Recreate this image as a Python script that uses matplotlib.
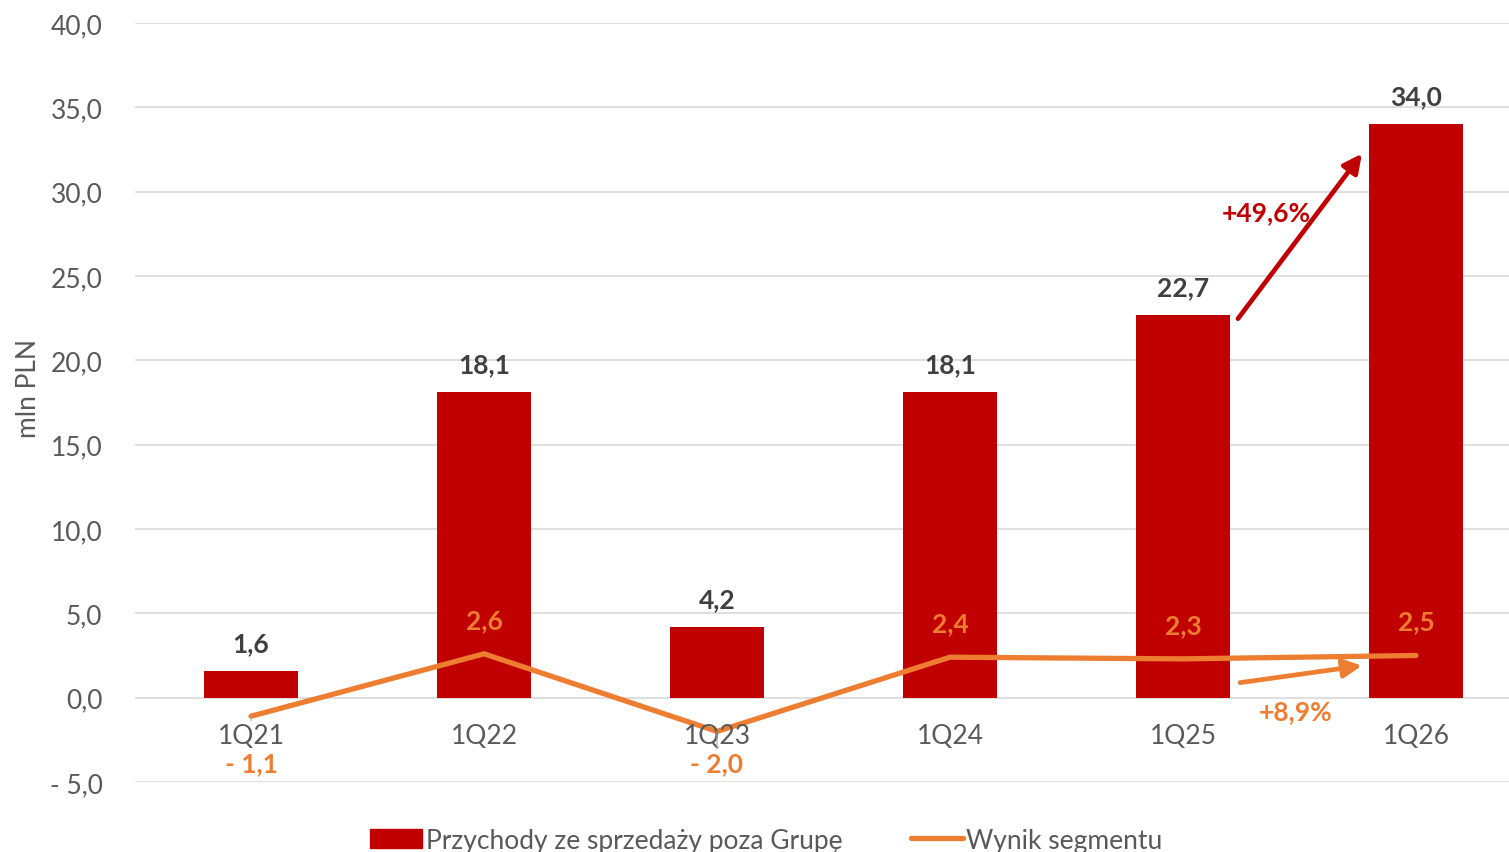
import matplotlib.pyplot as plt
from matplotlib.patches import Patch
from matplotlib.lines import Line2D

plt.rcParams['font.family'] = ['Lato', 'DejaVu Sans']

# data
quarters = ['1Q21', '1Q22', '1Q23', '1Q24', '1Q25', '1Q26']
revenue = [1.6, 18.1, 4.2, 18.1, 22.7, 34.0]
segment_result = [-1.1, 2.6, -2.0, 2.4, 2.3, 2.5]
yticks = [-5, 0, 5, 10, 15, 20, 25, 30, 35, 40]

RED = '#C00000'
ORANGE = '#ED7D31'
GRAY = '#595959'
DARK = '#404040'
FS = 19


def pl(v):
    s = f"{abs(v):.1f}".replace('.', ',')
    return '- ' + s if v < 0 else s


fig = plt.figure(figsize=(15.09, 8.53), dpi=100)
ax = fig.add_axes([134.5 / 1509, 1 - 783 / 853, 1398 / 1509, 759 / 853])

x = list(range(len(quarters)))
ax.bar(x, revenue, width=0.4, color=RED, zorder=2)
ax.plot(x, segment_result, color=ORANGE, lw=3.8, solid_capstyle='round',
        solid_joinstyle='miter', zorder=3)

ax.set_xlim(-0.5, 5.5)
ax.set_ylim(-5, 40)
ax.set_yticks(yticks)
ax.set_yticklabels([pl(v) for v in yticks])
ax.yaxis.grid(True, color='#D9D9D9', lw=1.2, zorder=0)
ax.set_axisbelow(True)
for s in ax.spines.values():
    s.set_visible(False)
ax.tick_params(axis='y', length=0, pad=23, labelsize=FS, labelcolor=GRAY)
ax.set_xticks([])

# category labels just below zero line
for xi, q in zip(x, quarters):
    ax.annotate(q, (xi, 0), xytext=(0, -27), textcoords='offset points',
                ha='center', va='center', fontsize=FS, color=GRAY)

ax.set_ylabel('mln PLN', fontsize=FS, color=GRAY)
ax.yaxis.set_label_coords(-0.067, 0.52)

# bar labels
for xi, v in zip(x, revenue):
    ax.annotate(pl(v), (xi, v), xytext=(0, 20), textcoords='offset points',
                ha='center', va='center', fontsize=FS, fontweight='bold', color=DARK)

# line labels: positive above the point, negative below the category labels
for xi, v in zip(x, segment_result):
    if v >= 0:
        ax.annotate(pl(v), (xi, v), xytext=(0, 24.5), textcoords='offset points',
                    ha='center', va='center', fontsize=FS, fontweight='bold',
                    color=ORANGE, zorder=4)
    else:
        ax.annotate(pl(v), (xi, v), xytext=(xi, -3.9), textcoords='data',
                    ha='center', va='center', fontsize=FS, fontweight='bold',
                    color=ORANGE, zorder=4,
                    arrowprops=dict(arrowstyle='-', color='#A6A6A6', lw=0.8,
                                    shrinkA=20, shrinkB=0))

# growth arrows
ax.annotate('', xy=(4.768, 32.25), xytext=(4.236, 22.47),
            arrowprops=dict(arrowstyle='-|>', color=RED, lw=3.4,
                            mutation_scale=28, shrinkA=0, shrinkB=0), zorder=5)
ax.text(4.356, 28.8, '+49,6%', ha='center', va='center', fontsize=FS,
        fontweight='bold', color=RED, zorder=5)
ax.annotate('', xy=(4.768, 1.9), xytext=(4.245, 0.89),
            arrowprops=dict(arrowstyle='-|>', color=ORANGE, lw=3.4,
                            mutation_scale=28, shrinkA=0, shrinkB=0), zorder=5)
ax.text(4.485, -0.77, '+8,9%', ha='center', va='center', fontsize=FS,
        fontweight='bold', color=ORANGE, zorder=5)

handles = [Patch(color=RED), Line2D([0], [0], color=ORANGE, lw=3.8, solid_capstyle='round')]
fig.legend(handles, ['Przychody ze sprzedaży poza Grupę', 'Wynik segmentu'],
           loc='center', bbox_to_anchor=(0.508, 0.014), ncol=2, frameon=False,
           fontsize=FS, labelcolor=GRAY, handlelength=1.95, handleheight=0.75,
           handletextpad=0.15, columnspacing=2.6)

fig.savefig('out.png', dpi=100)
